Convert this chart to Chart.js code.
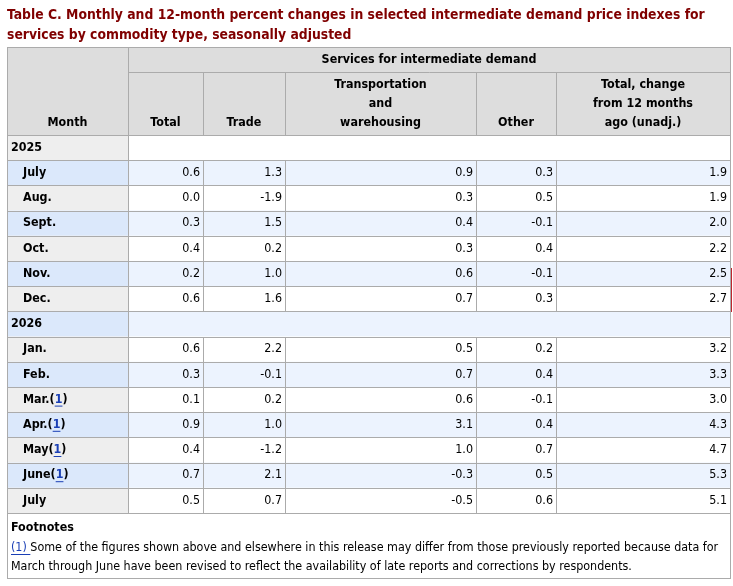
<!DOCTYPE html>
<html>
<head>
<meta charset="utf-8">
<script src="https://cdn.jsdelivr.net/npm/chart.js"></script>
<style>
  body { margin: 0; background: #fff; }
  #wrap { width: 733px; height: 586px; }
</style>
</head>
<body>
<div id="wrap"><canvas id="tbl" width="733" height="586"></canvas></div>
<script>
// ---- table text + values ----
const titleLines = [
  "Table C. Monthly and 12-month percent changes in selected intermediate demand price indexes for",
  "services by commodity type, seasonally adjusted"
];
const groupHeader = "Services for intermediate demand";
const columnHeaders = [
  ["Month"],
  ["Total"],
  ["Trade"],
  ["Transportation", "and", "warehousing"],
  ["Other"],
  ["Total, change", "from 12 months", "ago (unadj.)"]
];
const years = ["2025", "2026"];
const months2025 = ["July", "Aug.", "Sept.", "Oct.", "Nov.", "Dec."];
const months2026 = ["Jan.", "Feb.", "Mar.", "Apr.", "May", "June", "July"];
const revised2026 = ["Mar.", "Apr.", "May", "June"];

// July 2025 .. July 2026
const total     = [0.6, 0.0, 0.3, 0.4, 0.2, 0.6, 0.6, 0.3, 0.1, 0.9, 0.4, 0.7, 0.5];
const trade     = [1.3, -1.9, 1.5, 0.2, 1.0, 1.6, 2.2, -0.1, 0.2, 1.0, -1.2, 2.1, 0.7];
const transport = [0.9, 0.3, 0.4, 0.3, 0.6, 0.7, 0.5, 0.7, 0.6, 3.1, 1.0, -0.3, -0.5];
const other     = [0.3, 0.5, -0.1, 0.4, -0.1, 0.3, 0.2, 0.4, -0.1, 0.4, 0.7, 0.5, 0.6];
const change12  = [1.9, 1.9, 2.0, 2.2, 2.5, 2.7, 3.2, 3.3, 3.0, 4.3, 4.7, 5.3, 5.1];

const footnoteHead = "Footnotes";
const footnoteMark = "(1)";
const footnoteLines = [
  " Some of the figures shown above and elsewhere in this release may differ from those previously reported because data for",
  "March through June have been revised to reflect the availability of late reports and corrections by respondents."
];

// ---- layout ----
const colWidths = [121, 75, 82, 191, 80, 174];
const colEdges = [0];
colWidths.forEach(w => colEdges.push(colEdges[colEdges.length - 1] + w));

const FONT = '"DejaVu Sans Condensed", "DejaVu Sans", sans-serif';
const FS = "12.4px ";
const BORDER = "#ababab";
const HEAD_BG = "#dddddd";
const MONTH_BG = "#eeeeee";
const MONTH_BLUE = "#dbe8fb";
const CELL_BLUE = "#ecf3fe";
const LINK = "#1a3fb5";

const rows = [];
rows.push({ label: years[0], year: true });
months2025.forEach(m => rows.push({ label: m }));
rows.push({ label: years[1], year: true });
months2026.forEach(m => rows.push({ label: m, note: revised2026.includes(m) }));
const monthRows = rows.map((r, i) => (r.year ? -1 : i)).filter(i => i >= 0);

const series = [total, trade, transport, other, change12];

const crisp = v => Math.round(v) + 0.5;

function hLine(ctx, x1, x2, yy) {
  ctx.beginPath(); ctx.moveTo(Math.round(x1), crisp(yy)); ctx.lineTo(Math.round(x2) + 1, crisp(yy)); ctx.stroke();
}
function vLine(ctx, xx, y1, y2) {
  ctx.beginPath(); ctx.moveTo(crisp(xx), Math.round(y1)); ctx.lineTo(crisp(xx), Math.round(y2)); ctx.stroke();
}

const tablePlugin = {
  id: "tableGrid",
  beforeDatasetsDraw(chart) {
    const { ctx, chartArea: a, scales: { x, y } } = chart;
    const left = x.getPixelForValue(0);
    const right = x.getPixelForValue(colEdges[colEdges.length - 1]);
    const col1 = x.getPixelForValue(colEdges[1]);
    const rowTop = i => y.getPixelForValue(i - 0.5);
    const rowBot = i => y.getPixelForValue(i + 0.5);
    const headTop = a.top - 88;
    const headMid = a.top - 63;
    const footBot = a.bottom + 65;

    ctx.save();
    ctx.fillStyle = "#fff";
    ctx.fillRect(0, 0, chart.width, chart.height);

    // title
    ctx.fillStyle = "#800000";
    ctx.font = "bold 13.8px " + FONT;
    ctx.textBaseline = "alphabetic";
    ctx.textAlign = "left";
    ctx.fillText(titleLines[0], left, 19);
    ctx.fillText(titleLines[1], left, 38.5);

    // header background
    ctx.fillStyle = HEAD_BG;
    ctx.fillRect(left, headTop, right - left, a.top - headTop);

    // row backgrounds
    rows.forEach((r, i) => {
      const blue = i % 2 === 1;
      const t = rowTop(i), b = rowBot(i);
      ctx.fillStyle = blue ? MONTH_BLUE : MONTH_BG;
      ctx.fillRect(left, t, col1 - left, b - t);
      ctx.fillStyle = blue ? CELL_BLUE : "#fff";
      ctx.fillRect(col1, t, right - col1, b - t);
    });

    // grid lines
    ctx.strokeStyle = BORDER;
    ctx.lineWidth = 1;
    ctx.strokeRect(crisp(left), crisp(headTop), Math.round(right - left), Math.round(footBot - headTop));
    vLine(ctx, col1, headTop, a.bottom);
    hLine(ctx, col1, right, headMid);
    for (let c = 2; c < colEdges.length - 1; c++) {
      const cx = x.getPixelForValue(colEdges[c]);
      vLine(ctx, cx, headMid, a.top);
      rows.forEach((r, i) => { if (!r.year) vLine(ctx, cx, rowTop(i), rowBot(i)); });
    }
    hLine(ctx, left, right, a.top);
    rows.forEach((r, i) => hLine(ctx, left, right, rowBot(i)));

    // header text
    ctx.fillStyle = "#000";
    ctx.font = "bold " + FS + FONT;
    ctx.textAlign = "center";
    ctx.textBaseline = "middle";
    ctx.fillText(groupHeader, (col1 + right) / 2, (headTop + headMid) / 2 + 0.5);
    columnHeaders.forEach((lines, c) => {
      const cx = (x.getPixelForValue(colEdges[c]) + x.getPixelForValue(colEdges[c + 1])) / 2;
      lines.forEach((ln, j) => {
        ctx.fillText(ln, cx, a.top - 12.5 - 19 * (lines.length - 1 - j));
      });
    });

    // row labels
    ctx.textAlign = "left";
    rows.forEach((r, i) => {
      const cy = y.getPixelForValue(i);
      let tx = left + (r.year ? 4 : 16);
      ctx.fillStyle = "#000";
      ctx.fillText(r.label, tx, cy);
      if (r.note) {
        tx += ctx.measureText(r.label).width;
        ctx.fillText("(", tx, cy);
        tx += ctx.measureText("(").width;
        const w1 = ctx.measureText("1").width;
        ctx.fillStyle = LINK;
        ctx.fillText("1", tx, cy);
        ctx.fillRect(tx, cy + 6, w1, 1);
        ctx.fillStyle = "#000";
        ctx.fillText(")", tx + w1, cy);
      }
    });

    // footnotes
    const fx = left + 4;
    ctx.fillStyle = "#000";
    ctx.font = "bold " + FS + FONT;
    ctx.fillText(footnoteHead, fx, a.bottom + 14.5);
    ctx.font = FS + FONT;
    const markW = ctx.measureText(footnoteMark + " ").width;
    ctx.fillStyle = LINK;
    ctx.fillText(footnoteMark, fx, a.bottom + 34.5);
    ctx.fillRect(fx, a.bottom + 41, markW, 1);
    ctx.fillStyle = "#000";
    ctx.fillText(footnoteLines[0], fx + ctx.measureText(footnoteMark).width, a.bottom + 34.5);
    ctx.fillText(footnoteLines[1], fx, a.bottom + 53.5);

    // small marker at right edge of the page
    ctx.fillStyle = "#c0262d";
    ctx.fillRect(731, 268, 1, 44);
    ctx.restore();
  },
  afterDatasetsDraw(chart) {
    const { ctx } = chart;
    ctx.save();
    ctx.font = FS + FONT;
    ctx.fillStyle = "#000";
    ctx.textAlign = "right";
    ctx.textBaseline = "middle";
    chart.data.datasets.forEach((ds, k) => {
      chart.getDatasetMeta(k).data.forEach((el, j) => {
        ctx.fillText(series[k][j].toFixed(1), el.x - 3, el.y);
      });
    });
    ctx.restore();
  }
};

new Chart(document.getElementById("tbl"), {
  type: "scatter",
  data: {
    datasets: series.map((s, k) => ({
      data: monthRows.map(r => ({ x: colEdges[k + 2], y: r })),
      pointRadius: 0,
      pointHoverRadius: 0
    }))
  },
  options: {
    responsive: false,
    animation: false,
    events: [],
    layout: { padding: { left: 7, right: 3, top: 135, bottom: 73 } },
    scales: {
      x: { type: "linear", min: 0, max: colEdges[colEdges.length - 1], display: false },
      y: { type: "linear", min: -0.5, max: rows.length - 0.5, reverse: true, display: false }
    },
    plugins: { legend: { display: false }, tooltip: { enabled: false } }
  },
  plugins: [tablePlugin]
});
</script>
</body>
</html>
